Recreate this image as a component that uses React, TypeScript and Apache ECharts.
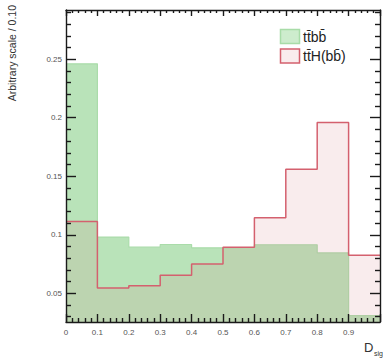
import React, { useEffect, useRef } from "react";
import * as echarts from "echarts";

const binEdges = [0, 0.1, 0.2, 0.3, 0.4, 0.5, 0.6, 0.7, 0.8, 0.9, 1.0];
const ttbbValues = [0.246, 0.098, 0.0894, 0.0917, 0.0889, 0.0893, 0.0915, 0.0915, 0.0845, 0.031];
const tthValues = [0.1114, 0.0545, 0.0565, 0.0654, 0.0751, 0.0894, 0.1145, 0.156, 0.196, 0.0826];
const yMajorTicks = [0.05, 0.1, 0.15, 0.2, 0.25];
const yMinorTicks = [0.03, 0.04, 0.06, 0.07, 0.08, 0.09, 0.11, 0.12, 0.13, 0.14, 0.16, 0.17, 0.18, 0.19, 0.21, 0.22, 0.23, 0.24, 0.26, 0.27, 0.28, 0.29];
const seriesNames = ["tt\u0304bb\u0304", "tt\u0304H(bb\u0304)"];

const Y_MIN = 0.0255;
const Y_MAX = 0.292;
const FONT = "Liberation Sans, Arial, sans-serif";

function stepData(vals: number[]) {
  const pts: [number, number][] = vals.map((v, i) => [binEdges[i], v]);
  pts.push([binEdges[binEdges.length - 1], vals[vals.length - 1]]);
  return pts;
}

function makeOption() {
  const tickStyle = { color: "#1a1a1a", width: 1.4 };
  const lineStyle = { color: "#1a1a1a", width: 1.4 };
  const yBase = (position: string, ticks: number[], len: number, labels: boolean, line: boolean) => ({
    type: "value",
    position,
    min: Y_MIN,
    max: Y_MAX,
    axisLine: { show: line, lineStyle },
    axisTick: { show: true, inside: true, length: len, customValues: ticks, lineStyle: tickStyle },
    axisLabel: labels
      ? { show: true, customValues: ticks, margin: 4, fontSize: 8, color: "#555", fontFamily: FONT }
      : { show: false },
    splitLine: { show: false },
  });
  const xBase = (position: string, len: number, minorLen: number, labels: boolean) => ({
    type: "value",
    position,
    min: 0,
    max: 1,
    interval: 0.1,
    axisLine: { show: true, lineStyle },
    axisTick: { show: true, inside: true, length: len, lineStyle: tickStyle },
    minorTick: { show: true, splitNumber: 5, length: minorLen, lineStyle: tickStyle },
    axisLabel: labels
      ? {
          show: true,
          margin: 6,
          fontSize: 8,
          color: "#555",
          formatter: (v: number) => (v >= 0.999 ? "" : String(Math.round(v * 10) / 10)),
        }
      : { show: false },
    splitLine: { show: false },
  });
  return {
    animation: false,
    grid: { left: 66, top: 10, right: -1.5, bottom: 37 },
    xAxis: [xBase("bottom", 8, 4, true), xBase("top", 6, 3, false)],
    yAxis: [
      yBase("left", yMajorTicks, 10, true, true),
      yBase("left", yMinorTicks, 5, false, false),
      yBase("right", yMajorTicks, 10, false, true),
      yBase("right", yMinorTicks, 5, false, false),
    ],
    series: [
      {
        name: seriesNames[0],
        type: "line",
        step: "end",
        symbol: "none",
        data: stepData(ttbbValues),
        lineStyle: { color: "#aadcaa", width: 1.2 },
        areaStyle: { color: "#b9e3b9", opacity: 1, origin: "start" },
        z: -2,
      },
      {
        name: seriesNames[1],
        type: "line",
        step: "end",
        symbol: "none",
        data: stepData(tthValues),
        lineStyle: { color: "#d4606e", width: 1.5 },
        areaStyle: { color: "rgba(213,122,129,0.143)", opacity: 1, origin: "start" },
        z: -1,
      },
    ],
    graphic: [
      {
        type: "text",
        x: 12,
        y: 5,
        rotation: Math.PI / 2,
        style: { text: "Arbitrary scale / 0.10", fontSize: 10.5, fontFamily: FONT, fill: "#333", align: "right", verticalAlign: "middle" },
      },
      { type: "text", x: 364, y: 341, style: { text: "D", fontSize: 13, fontFamily: FONT, fill: "#333" } },
      { type: "text", x: 374, y: 350, style: { text: "sig", fontSize: 7, fontFamily: FONT, fill: "#333" } },
      {
        type: "rect",
        shape: { x: 280.5, y: 29.5, width: 19, height: 14 },
        style: { fill: "#cdeccd", stroke: "#a8dca8", lineWidth: 1.5 },
      },
      {
        type: "rect",
        shape: { x: 280.5, y: 49, width: 19, height: 14 },
        style: { fill: "#f9eced", stroke: "#d4606e", lineWidth: 1.5 },
      },
      { type: "text", x: 303, y: 36.5, style: { text: seriesNames[0], fontSize: 14, fontFamily: FONT, fill: "#222", verticalAlign: "middle" } },
      { type: "text", x: 303, y: 56, style: { text: seriesNames[1], fontSize: 14, fontFamily: FONT, fill: "#222", verticalAlign: "middle" } },
    ],
  };
}

export default function App() {
  const ref = useRef<HTMLDivElement>(null);
  useEffect(() => {
    if (!ref.current) return;
    const chart = echarts.init(ref.current, undefined, { renderer: "svg" });
    chart.setOption(makeOption() as any);
    return () => chart.dispose();
  }, []);
  return <div ref={ref} style={{ width: 383, height: 359, position: "absolute", left: 0, top: 0 }} />;
}
